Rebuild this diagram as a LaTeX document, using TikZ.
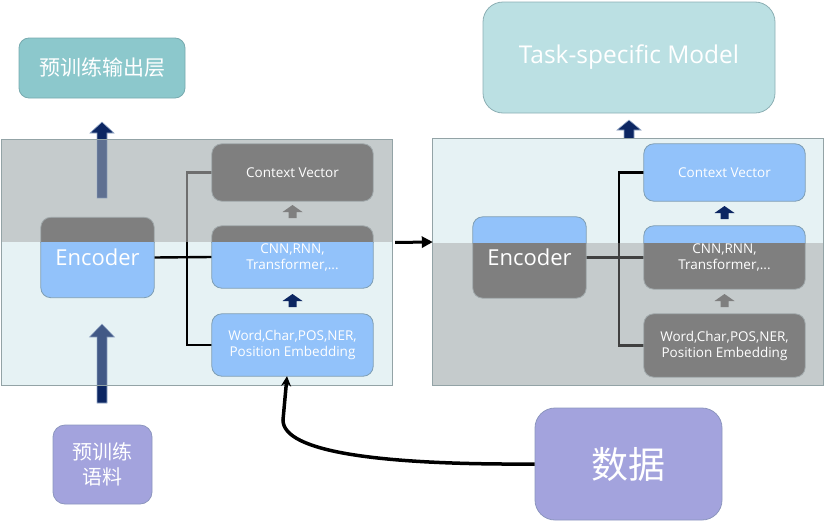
\documentclass[tikz,border=0pt]{standalone}
\usepackage{fontspec}
\setmainfont{Open Sans}
\newfontfamily\cjk{Noto Sans CJK SC}
\usetikzlibrary{arrows.meta}
\pgfdeclarelayer{back}
\pgfdeclarelayer{mid}
\pgfsetlayers{back,mid,main}
\definecolor{navy}{RGB}{12,38,98}
\definecolor{arrbord}{RGB}{150,170,200}
\definecolor{pgray}{RGB}{197,203,204}
\definecolor{plight}{RGB}{230,242,244}
\definecolor{pborder}{RGB}{147,163,166}
\definecolor{bblue}{RGB}{146,194,250}
\definecolor{bbord}{RGB}{126,158,180}
\definecolor{bgray}{RGB}{127,127,127}
\definecolor{gbord}{RGB}{160,168,170}
\definecolor{tealc}{RGB}{140,200,204}
\definecolor{tealbord}{RGB}{120,170,175}
\definecolor{lteal}{RGB}{187,224,227}
\definecolor{ltealbord}{RGB}{140,175,180}
\definecolor{lav}{RGB}{163,163,221}
\definecolor{lavbord}{RGB}{140,150,190}
\definecolor{dline}{RGB}{64,64,64}
\definecolor{gline}{RGB}{110,110,110}
\newcommand\blockup[6]{({#1-#6},{#4}) -- ({#1-#6},{#3}) -- ({#1-#5},{#3}) -- ({#1},{#2}) -- ({#1+#5},{#3}) -- ({#1+#6},{#3}) -- ({#1+#6},{#4}) -- cycle}
\begin{document}
\begin{tikzpicture}[x=1pt,y=-1pt,
  boxn/.style={inner sep=0pt, minimum width=161pt, minimum height=#1, text=white, align=center, font=\fontsize{13.5}{16}\selectfont},
  encn/.style={inner sep=0pt, minimum width=113pt, minimum height=80pt, text=white, font=\fontsize{22}{24}\selectfont},
  gfill/.style={fill=bgray, draw=gbord, line width=0.8pt, rounded corners=10pt},
  bfill/.style={fill=bblue, draw=bbord, line width=0.8pt, rounded corners=10pt},
  conn/.style={line width=2.4pt},
  panel/.style={inner sep=0pt, minimum width=390pt, minimum height=245pt},
]
\useasboundingbox (0,0) rectangle (826,522);

% top / bottom boxes
\node[fill=tealc, draw=tealbord, line width=0.8pt, rounded corners=10pt, minimum width=166pt, minimum height=60pt, text=white, font=\cjk\fontsize{21}{24}\selectfont] (outL) at (102,68) {预训练输出层};
\node[fill=lteal, draw=ltealbord, line width=0.8pt, rounded corners=20pt, minimum width=292pt, minimum height=111pt, text=white, font=\fontsize{24.5}{28}\selectfont] (task) at (629,57.5) {Task-specific Model};
\node[fill=lav, draw=lavbord, line width=0.8pt, rounded corners=12pt, minimum width=99pt, minimum height=79pt, text=white, align=center, font=\cjk\fontsize{20}{25}\selectfont] (corp) at (102.5,464.5) {预训练\\语料};
\node[fill=lav, draw=lavbord, line width=0.8pt, rounded corners=20pt, minimum width=187pt, minimum height=112pt, text=white, font=\cjk\fontsize{37}{40}\selectfont] (data) at (628.5,464) {数据};

% panels
\node[panel] (panelL) at (197,262.5) {};
\node[panel, minimum height=246pt] (panelR) at (628,262) {};

% boxes left
\node[boxn=57pt] (ctxL) at (292.5,172.5) {Context Vector};
\node[boxn=62pt] (cnnL) at (292.5,257) {CNN,RNN,\\Transformer,...};
\node[boxn=62pt] (wordL) at (292.5,345) {Word,Char,POS,NER,\\Position Embedding};
\node[encn] (encL) at (97.5,257.5) {Encoder};
\coordinate (busL) at (187,345);
% boxes right
\node[boxn=57pt] (ctxR) at (724.5,172.5) {Context Vector};
\node[boxn=63pt] (cnnR) at (724.5,257.5) {CNN,RNN,\\Transformer,...};
\node[boxn=63pt] (wordR) at (724.5,345.5) {Word,Char,POS,NER,\\Position Embedding};
\node[encn, minimum height=81pt] (encR) at (529.5,257.5) {Encoder};
\coordinate (busR) at (619,345);

\begin{pgfonlayer}{back}
  \filldraw[navy, draw=arrbord, line width=0.6pt] \blockup{102}{122}{133}{198}{12}{5};
  \filldraw[navy, draw=arrbord, line width=0.6pt] \blockup{102}{324}{337}{403}{12.5}{5};
  \filldraw[navy, draw=arrbord, line width=0.6pt] \blockup{629}{120}{130}{139}{12}{5};
  \fill[pgray] (2,140) rectangle (392,242);
  \fill[plight] (2,242) rectangle (392,385);
  \fill[plight] (433,139) rectangle (823,243);
  \fill[pgray] (433,243) rectangle (823,385);
  \begin{scope}
    \clip (2,140) rectangle (392,242);
    \filldraw[navy, draw=arrbord, line width=0.6pt, opacity=0.55] \blockup{102}{122}{133}{198}{12}{5};
  \end{scope}
  \begin{scope}
    \clip (2,242) rectangle (392,385);
    \filldraw[navy, draw=arrbord, line width=0.6pt, opacity=0.75] \blockup{102}{324}{337}{403}{12.5}{5};
  \end{scope}
  \draw[pborder, line width=0.8pt] (panelL.south west) rectangle (panelL.north east);
  \draw[pborder, line width=0.8pt] (panelR.south west) rectangle (panelR.north east);
\end{pgfonlayer}

\begin{pgfonlayer}{mid}
  % left top (gray)
  \begin{scope}
    \clip (2,140) rectangle (392,242);
    \draw[conn, gline] (ctxL.west) -| (busL) |- (wordL.west);
    \foreach \n in {ctxL,cnnL,encL} \path[gfill] (\n.south west) rectangle (\n.north east);
    \fill[bgray] \blockup{292.5}{205}{212}{218}{10}{4};
  \end{scope}
  % left bottom (colour)
  \begin{scope}
    \clip (2,242) rectangle (392,385);
    \draw[conn, black] (ctxL.west) -| (busL) |- (wordL.west);
    \draw[conn, black] (encL.east) -- (cnnL.west);
    \foreach \n in {cnnL,encL,wordL} \path[bfill] (\n.south west) rectangle (\n.north east);
    \fill[navy] \blockup{292.5}{294}{301}{307}{10}{4};
  \end{scope}
  % right top (colour)
  \begin{scope}
    \clip (433,139) rectangle (823,243);
    \draw[conn, black] (ctxR.west) -| (busR) |- (wordR.west);
    \foreach \n in {ctxR,cnnR,encR} \path[bfill] (\n.south west) rectangle (\n.north east);
    \fill[navy] \blockup{724.5}{206}{213}{219}{10}{4};
  \end{scope}
  % right bottom (gray)
  \begin{scope}
    \clip (433,243) rectangle (823,385);
    \draw[conn, dline] (ctxR.west) -| (busR) |- (wordR.west);
    \draw[conn, dline] (encR.east) -- (cnnR.west);
    \foreach \n in {cnnR,encR,wordR} \path[gfill] (\n.south west) rectangle (\n.north east);
    \fill[bgray] \blockup{724.5}{294}{301}{307}{10}{4};
  \end{scope}
\end{pgfonlayer}

% connectors
\draw[line width=3pt, -{Triangle[length=11pt,width=11pt]}, shorten <=3pt] ([yshift=20pt]panelL.east) -- ([yshift=20pt]panelR.west);
\draw[line width=3.5pt, -{Stealth[length=10pt,width=10pt]}] (data.west) .. controls (380,465) and (283,452) .. (283,420) -- ([xshift=-5.5pt]wordL.south);
\end{tikzpicture}
\end{document}
